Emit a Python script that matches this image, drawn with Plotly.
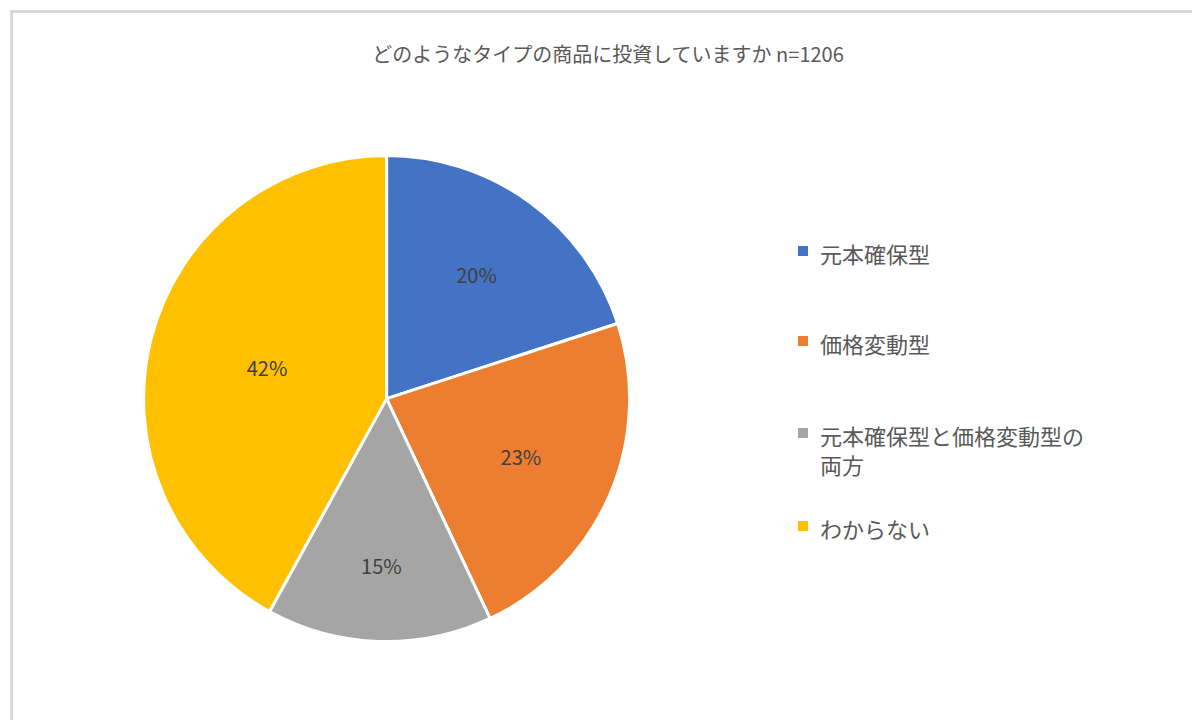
import plotly.graph_objects as go

labels = ["元本確保型", "価格変動型", "元本確保型と価格変動型の<br>両方", "わからない"]
values = [20, 23, 15, 42]
colors = ["#4472C4", "#ED7D31", "#A5A5A5", "#FFC000"]
title = "どのようなタイプの商品に投資していますか n=1206"

font = "Noto Sans CJK JP"
fig = go.Figure(go.Pie(
    labels=labels, values=values, sort=False, direction="clockwise", rotation=0,
    marker=dict(colors=colors, line=dict(color="white", width=3)),
    textinfo="percent", texttemplate="%{percent:.0%}", textposition="inside",
    insidetextfont=dict(size=20, color="#404040", family=font),
    domain=dict(x=[0.113, 0.518], y=[0.12, 0.795]), showlegend=False,
))

legend_y = [243, 333, 425, 518]
shapes = [dict(type="rect", xref="paper", yref="paper", x0=0.003, y0=0.005, x1=0.997, y1=0.995,
               line=dict(color="#d9d9d9", width=3))]
annotations = []
for lab, col, yy in zip(labels, colors, legend_y):
    yp = 1 - yy / 720
    shapes.append(dict(type="rect", xref="paper", yref="paper",
                       x0=790/1200, x1=800/1200, y0=yp-5/720, y1=yp+5/720,
                       fillcolor=col, line=dict(width=0)))
    annotations.append(dict(text=lab, xref="paper", yref="paper", x=810/1200, y=yp+16/720,
                            xanchor="left", yanchor="top", align="left", showarrow=False,
                            font=dict(size=22, color="#595959", family=font)))

fig.update_layout(
    width=1200, height=720, margin=dict(l=0, r=0, t=0, b=0),
    paper_bgcolor="white", plot_bgcolor="white",
    font=dict(family=font, color="#595959"),
    title=dict(text=title, x=0.5, xanchor="center", y=0.935, yanchor="middle",
               font=dict(size=20, color="#595959", family=font)),
    shapes=shapes, annotations=annotations,
)
fig.write_html("out.html")
